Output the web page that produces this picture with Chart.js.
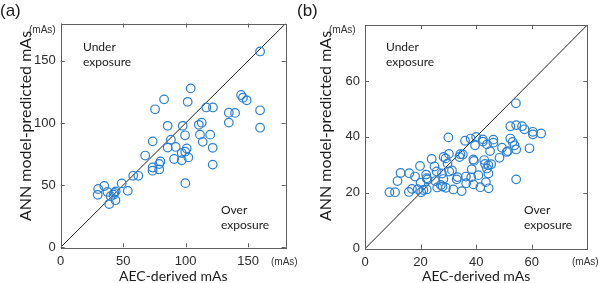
<!DOCTYPE html>
<html>
<head>
<meta charset="utf-8">
<script src="https://cdn.jsdelivr.net/npm/chart.js@4"></script>
<style>
  html, body { margin: 0; padding: 0; background: #fff; }
  body { width: 600px; height: 283px; position: relative; overflow: hidden; }
  .panel { position: absolute; top: 0; width: 300px; height: 283px; }
  .txt { position: absolute; color: #1a1a1a; white-space: nowrap; }
  .tag { font-family: "Liberation Sans", Arial, sans-serif; font-size: 17px; top: 1px; }
  .unit { font-family: "Liberation Sans", Arial, sans-serif; font-size: 10px; color: #333; }
  .note { font-family: Lato, sans-serif; font-size: 12px; line-height: 15px; }
  .ytitle { font-family: Lato, sans-serif; font-size: 16px; line-height: 16px;
            transform: translate(-50%, -50%) rotate(-90deg); }
</style>
</head>
<body>
<div class="panel" style="left:0"><canvas id="chartA"></canvas></div>
<div class="panel" style="left:300px"><canvas id="chartB"></canvas></div>

<div class="txt tag" style="left:0">(a)</div>
<div class="txt tag" style="left:297px">(b)</div>
<div class="txt ytitle" style="left:25px;top:126px">ANN model-predicted mAs</div>
<div class="txt ytitle" style="left:325px;top:126px">ANN model-predicted mAs</div>
<div class="txt unit" style="left:29px;top:24px">(mAs)</div>
<div class="txt unit" style="left:271px;top:256px">(mAs)</div>
<div class="txt unit" style="left:329px;top:24px">(mAs)</div>
<div class="txt unit" style="left:572px;top:256px">(mAs)</div>
<div class="txt note" style="left:83px;top:39px">Under<br>exposure</div>
<div class="txt note" style="left:221px;top:202px">Over<br>exposure</div>
<div class="txt note" style="left:386px;top:39px">Under<br>exposure</div>
<div class="txt note" style="left:524px;top:202px">Over<br>exposure</div>

<script>
// --- Panel (a): AEC-derived vs ANN predicted mAs ---
const aX = [159.5, 104, 82.7, 75.5, 101.6, 116.5, 121.8, 144.3, 145.8, 148.8, 134.5, 139.5, 134.5, 159.5, 159.5,
            85.6, 97.6, 110.5, 112.8, 88.2, 99.5, 111.4, 119.6, 113.6, 73.6, 85.6, 92, 100.8, 121.6, 96.8,
            99.6, 102.1, 96.8, 90.7, 67.6, 79.8, 78.8, 73.5, 73.5, 78.8, 121.6, 99.7, 58, 62.1, 48.8,
            53.7, 34.9, 30, 29.6, 37.4, 40, 42.9, 43.8, 38.8, 42.3, 44];
const aY = [157.5, 127.8, 119, 111, 117, 112.5, 112.5, 122.5, 120.3, 118.2, 108.2, 108.1, 100.3, 110.2, 96.2,
            97.7, 97.7, 98.5, 100.2, 86.6, 90.1, 90.6, 90.6, 84.8, 85.2, 80.2, 80.7, 79.5, 80, 75.8,
            76.9, 72.3, 70, 71, 73.8, 69, 67, 64.2, 61.6, 62.6, 66.5, 51.6, 57.5, 57.5, 51.4,
            45.4, 49.3, 46.9, 42.2, 44.5, 41.1, 43.8, 37.9, 34.8, 42.3, 45];
const aTicks = [0, 50, 100, 150];
const aMax = 180;

// --- Panel (b) ---
const bX = [8.8, 10.8, 11.7, 12.8, 15.8, 15.9, 16.9, 18.0, 19.0, 19.8, 20.0, 20.2, 21.0, 22.0, 22.2,
            22.5, 22.2, 24.0, 25.0, 25.3, 25.8, 26.0, 27.3, 27.9, 28.2, 27.7, 28.3, 29.0, 29.1, 29.7,
            30.0, 30.2, 30.3, 31.3, 31.8, 33.0, 33.3, 34.0, 34.3, 34.8, 36.0, 36.3, 36.4, 35.2, 38.0,
            38.4, 38.2, 39.0, 39.2, 39.0, 39.6, 40.0, 40.8, 41.5, 42.4, 42.4, 42.9, 43.2, 43.5, 43.9,
            43.9, 44.4, 44.4, 44.5, 45.0, 45.4, 46.2, 46.2, 48.4, 49.3, 51.0, 51.4, 52.3, 53.1, 53.8,
            54.4, 54.4, 52.3, 54.4, 56.5, 57.4, 60.4, 60.4, 63.4, 59.2, 54.3];
const bY = [20.2, 20.2, 24.2, 27.1, 20.3, 27.0, 21.4, 25.8, 21.3, 29.6, 23.6, 20.2, 21.0, 26.5, 25.2,
            24.8, 21.2, 32.1, 29.4, 24.2, 27.6, 21.9, 22.8, 22.2, 24.9, 26.9, 32.8, 32.3, 21.8, 30.5,
            39.8, 33.9, 27.6, 28.0, 21.2, 24.8, 25.6, 32.8, 33.8, 20.6, 38.6, 25.8, 23.4, 33.7, 39.4,
            28.4, 25.5, 31.9, 31.4, 23.0, 37.0, 40.0, 26.3, 22.0, 39.1, 38.3, 31.7, 30.3, 23.8, 37.3,
            28.7, 29.9, 26.9, 21.6, 34.9, 30.2, 39.0, 37.9, 32.5, 36.1, 34.6, 34.9, 39.4, 38.2, 37.0,
            35.5, 24.8, 43.8, 44.2, 43.8, 42.7, 41.8, 40.9, 41.2, 35.9, 52.0];
const bTicks = [0, 20, 40, 60];
const bMax = 80;

const markerColor = '#2a7fd0';
const frameColor = '#5e5e5e';
const tickFont = { family: "'Liberation Sans', Arial, sans-serif", size: 13 };

// box around the plot + inward tick marks on all four sides
const framePlugin = {
    id: 'frame',
    afterDraw(chart) {
        const { ctx, chartArea: a, scales } = chart;
        ctx.save();
        ctx.strokeStyle = frameColor;
        ctx.lineWidth = 1;
        ctx.strokeRect(Math.round(a.left) + 0.5, Math.round(a.top) + 0.5,
                       Math.round(a.right - a.left), Math.round(a.bottom - a.top));
        const len = 4;
        ctx.beginPath();
        scales.x.ticks.forEach(t => {
            const px = Math.round(scales.x.getPixelForValue(t.value)) + 0.5;
            ctx.moveTo(px, a.bottom); ctx.lineTo(px, a.bottom - len);
            ctx.moveTo(px, a.top); ctx.lineTo(px, a.top + len);
        });
        scales.y.ticks.forEach(t => {
            const py = Math.round(scales.y.getPixelForValue(t.value)) + 0.5;
            ctx.moveTo(a.left, py); ctx.lineTo(a.left + len, py);
            ctx.moveTo(a.right, py); ctx.lineTo(a.right - len, py);
        });
        ctx.stroke();
        ctx.restore();
    }
};

function makePanel(id, xs, ys, ticks, max, box) {
    const pts = xs.map((x, i) => ({ x: x, y: ys[i] }));
    const diag = [{ x: 0, y: 0 }, { x: max, y: max }];
    const axis = (isY) => ({
        type: 'linear', min: 0, max: max,
        grid: { display: false, drawTicks: false },
        border: { display: false },
        afterBuildTicks: s => { s.ticks = ticks.map(v => ({ value: v })); },
        afterFit: s => {
            if (isY) s.width = box.yWidth; else s.height = box.xHeight;
        },
        ticks: { color: '#2b2b2b', font: tickFont, padding: isY ? 5 : 6 },
        title: isY
            ? { display: false }
            : { display: true, text: 'AEC-derived mAs', color: '#1a1a1a', font: { family: 'Lato, sans-serif', size: 14, lineHeight: 1.0 }, padding: { top: 0, bottom: 0 } }
    });
    return new Chart(document.getElementById(id), {
        type: 'scatter',
        data: {
            datasets: [
                {
                    data: pts,
                    borderColor: markerColor,
                    backgroundColor: 'rgba(0,0,0,0)',
                    borderWidth: 1.2,
                    pointRadius: 4.3,
                    pointHoverRadius: 4.3
                },
                {
                    type: 'line',
                    data: diag,
                    borderColor: '#222',
                    borderWidth: 1,
                    pointRadius: 0,
                    fill: false
                }
            ]
        },
        options: {
            responsive: true, maintainAspectRatio: false, animation: false,
            layout: { padding: { top: box.top, right: box.right, left: 0, bottom: 0 } },
            plugins: { legend: { display: false }, tooltip: { enabled: false } },
            scales: { x: axis(false), y: axis(true) }
        },
        plugins: [framePlugin]
    });
}

makePanel('chartA', aX, aY, aTicks, aMax, { top: 23.5, right: 14.3, yWidth: 60.7, xHeight: 35.7 });
makePanel('chartB', bX, bY, bTicks, bMax, { top: 25, right: 12.7, yWidth: 65, xHeight: 34.3 });
</script>
</body>
</html>
